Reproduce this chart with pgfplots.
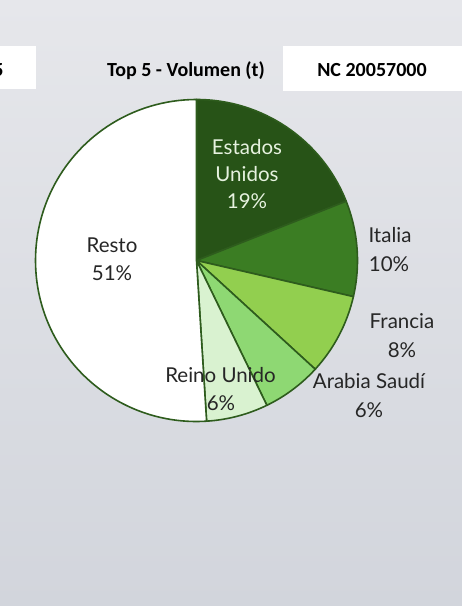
\documentclass[border=0pt]{standalone}
\usepackage{pgfplots}
\usepackage{pgfplotstable}
\pgfplotsset{compat=1.18}
\usepackage{fontspec}
\setmainfont{Lato}
\newfontfamily\titlefont{Carlito}

\definecolor{bgtop}{HTML}{E6E7EB}
\definecolor{bgbot}{HTML}{D2D5DC}
\definecolor{edge}{HTML}{2E5C1D}
\definecolor{slice0}{HTML}{275317}
\definecolor{slice1}{HTML}{3B7D23}
\definecolor{slice2}{HTML}{92CF4F}
\definecolor{slice3}{HTML}{8ED873}
\definecolor{slice4}{HTML}{D9F2D0}
\definecolor{slice5}{HTML}{FFFFFF}
\definecolor{lbl}{HTML}{262626}
\definecolor{lbllight}{HTML}{E6F2DF}

% share of volume, clockwise from 12 o'clock
\pgfplotstableread{
pais valor
EstadosUnidos 19.0
Italia 9.6
Francia 8.2
ArabiaSaudi 6.0
ReinoUnido 6.2
Resto 51.0
}\piedata

% one line of label text: x, cap-centre y (pixels from top), colour, text
\newcommand\lbl[4]{\node[anchor=base,inner sep=0pt,text=#3,font=\fontsize{20.5}{24}\selectfont]
  at (#1,{606-#2-7.3}) {#4};}
\newcommand\ttl[3]{\node[anchor=base,inner sep=0pt,text=black,font=\titlefont\bfseries\fontsize{20}{24}\selectfont]
  at (#1,{606-#2-6.4}) {#3};}

\begin{document}
\begin{tikzpicture}[x=1pt,y=1pt]
\shade[top color=bgtop,bottom color=bgbot] (0,0) rectangle (462,606);
\clip (0,0) rectangle (462,606);

% header
\fill[white] (-2,{606-89}) rectangle (36,{606-46});
\node[anchor=base east,inner sep=0pt,font=\titlefont\bfseries\fontsize{20}{24}\selectfont]
  at (3.8,{606-76.4}) {2025};
\fill[white] (283,{606-91}) rectangle (470,{606-46});
\ttl{186}{70}{Top 5 - Volumen (t)}
\ttl{372}{70}{NC 20057000}

% start and end angle of each slice
\def\cum{0}
\pgfplotstablegetrowsof{\piedata}
\pgfmathtruncatemacro\lastrow{\pgfplotsretval-1}
\foreach \i in {0,...,\lastrow}{
  \pgfplotstablegetelem{\i}{valor}\of\piedata
  \pgfmathsetmacro\sa{90-3.6*\cum}
  \pgfmathsetmacro\ea{90-3.6*(\cum+\pgfplotsretval)}
  \expandafter\xdef\csname sa\i\endcsname{\sa}
  \expandafter\xdef\csname ea\i\endcsname{\ea}
  \pgfmathsetmacro\newcum{\cum+\pgfplotsretval}
  \xdef\cum{\newcum}
}

\begin{axis}[
    at={(35.5pt,184.5pt)}, anchor=south west,
    x=161pt, y=161pt,
    xmin=-1, xmax=1, ymin=-1, ymax=1,
    hide axis, clip=false
]
\pgfplotsinvokeforeach{0,...,5}{
  \filldraw[fill=slice#1, draw=edge, line width=1.6pt, line join=round]
    (axis cs:0,0) -- (axis cs:{cos(\csname sa#1\endcsname)},{sin(\csname sa#1\endcsname)})
    arc[start angle=\csname sa#1\endcsname, end angle=\csname ea#1\endcsname, radius=161pt]
    -- cycle;
}
\end{axis}

% labels
\lbl{247}{147}{lbllight}{Estados}
\lbl{247}{174}{lbllight}{Unidos}
\lbl{247}{201}{lbllight}{19\%}
\lbl{390}{235}{lbl}{Italia}
\lbl{389}{264}{lbl}{10\%}
\lbl{402}{321}{lbl}{Francia}
\lbl{402}{350}{lbl}{8\%}
\lbl{369}{381.5}{lbl}{Arabia Saudí}
\lbl{369}{410}{lbl}{6\%}
\lbl{220.5}{375}{lbl}{Reino Unido}
\lbl{221}{403.5}{lbl}{6\%}
\lbl{112}{245}{lbl}{Resto}
\lbl{112}{273}{lbl}{51\%}
\end{tikzpicture}
\end{document}
